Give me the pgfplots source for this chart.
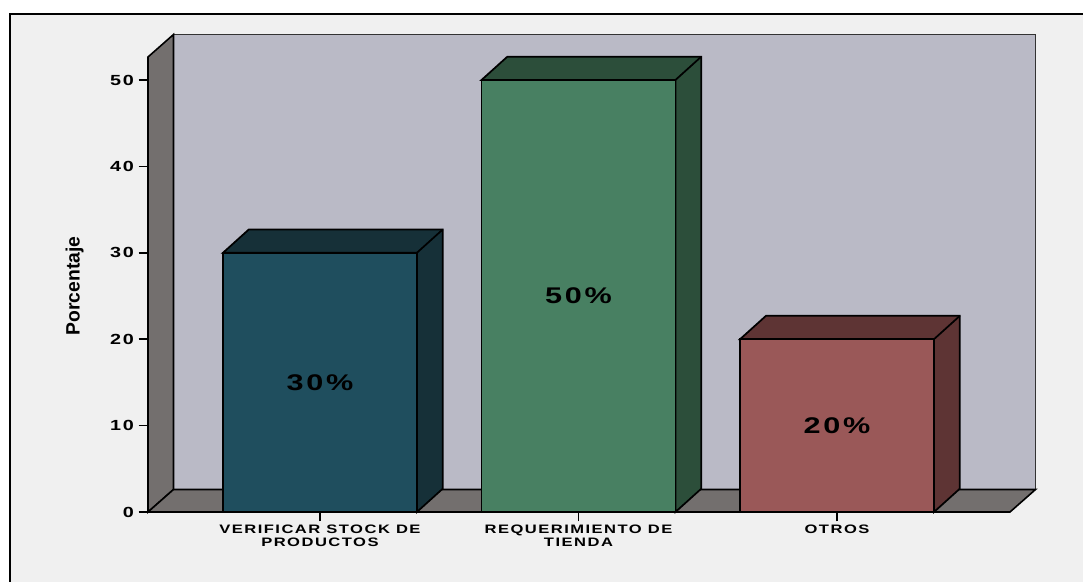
\documentclass[border=0pt]{standalone}
\usepackage{fontspec}
\setmainfont{Liberation Sans}
\newfontfamily\widefont[FakeStretch=1.35,LetterSpace=12]{Liberation Sans Bold}
\newfontfamily\ylabfont{Liberation Sans Bold}
\usepackage{pgfplots}
\usepackage{pgfplotstable}
\pgfplotsset{compat=1.18}
\definecolor{bgcol}{RGB}{240,240,240}
\definecolor{wallback}{RGB}{186,186,198}
\definecolor{wallside}{RGB}{115,111,110}
\definecolor{bfa}{RGB}{31,78,94}
\definecolor{bsa}{RGB}{22,48,56}
\definecolor{bfb}{RGB}{72,128,98}
\definecolor{bsb}{RGB}{44,78,58}
\definecolor{bfc}{RGB}{154,88,88}
\definecolor{bsc}{RGB}{94,52,52}
\pgfplotstableread{
x v
0 30
1 50
2 20
}\datatab
\begin{document}
\begin{tikzpicture}
\useasboundingbox (0,0) rectangle (812.25pt,436.5pt);
\clip (0,0) rectangle (812.25pt,436.5pt);
\fill[white] (0,0) rectangle (812.25pt,436.5pt);
\fill[bgcol] (7.5pt,426pt) rectangle (830pt,-20pt);
\draw[black, line width=2.2pt] (7.5pt,426pt) rectangle (830pt,-20pt);
\begin{axis}[
  at={(111pt,52.5pt)}, anchor=south west,
  scale only axis, width=646.5pt, height=341.25pt,
  xmin=-0.665, xmax=2.669, ymin=0, ymax=52.66,
  clip=false, axis on top,
  axis x line*=bottom, axis y line*=left,
  axis line style={black, line width=1.2pt, -},
  tick style={black, line width=1.2pt},
  tick align=outside, major tick length=7pt,
  xtick={0,1,2},
  xticklabels={{VERIFICAR STOCK DE\\PRODUCTOS},{REQUERIMIENTO DE\\TIENDA},{OTROS}},
  xticklabel style={align=center, font=\widefont\fontsize{9.2}{10}\selectfont, yshift=1pt},
  ytick={0,10,20,30,40,50},
  yticklabel style={font=\widefont\fontsize{11}{12}\selectfont},
  /pgf/number format/assume math mode=true,
  ylabel={Porcentaje},
  ylabel style={at={(axis description cs:-0.085,0.497)}, anchor=center, rotate=0, font=\ylabfont\fontsize{14.5}{17}\selectfont},
]
% walls
\addplot[fill=wallback, draw=black!80, line width=1.2pt] coordinates {(-0.5665,2.6) (-0.5665,55.26) (2.7675,55.26) (2.7675,2.6)} -- cycle;
\addplot[fill=wallside, draw=black, line width=1.2pt] coordinates {(-0.665,0) (-0.665,52.66) (-0.5665,55.26) (-0.5665,2.6)} -- cycle;
\addplot[fill=wallside, draw=black, line width=1.2pt] coordinates {(-0.665,0) (-0.5665,2.6) (2.7675,2.6) (2.669,0)} -- cycle;
% bar depth faces
\addplot[fill=bsa, draw=black, line width=1.3pt] coordinates {(-0.375,30) (-0.275,32.7) (0.475,32.7) (0.475,2.7) (0.375,0) (0.375,30)} -- cycle;
\addplot[draw=black, line width=1.3pt] coordinates {(0.375,30) (0.475,32.7)};
\addplot[fill=bsb, draw=black, line width=1.3pt] coordinates {(0.625,50) (0.725,52.7) (1.475,52.7) (1.475,2.7) (1.375,0) (1.375,50)} -- cycle;
\addplot[draw=black, line width=1.3pt] coordinates {(1.375,50) (1.475,52.7)};
\addplot[fill=bsc, draw=black, line width=1.3pt] coordinates {(1.625,20) (1.725,22.7) (2.475,22.7) (2.475,2.7) (2.375,0) (2.375,20)} -- cycle;
\addplot[draw=black, line width=1.3pt] coordinates {(2.375,20) (2.475,22.7)};
% front faces
\addplot[ybar, bar width=0.75, bar shift=0, fill=bfa, draw=black, line width=1.3pt] table[x=x, y=v, restrict expr to domain={\thisrow{x}}{0:0}] {\datatab};
\addplot[ybar, bar width=0.75, bar shift=0, fill=bfb, draw=black, line width=1.3pt] table[x=x, y=v, restrict expr to domain={\thisrow{x}}{1:1}] {\datatab};
\addplot[ybar, bar width=0.75, bar shift=0, fill=bfc, draw=black, line width=1.3pt] table[x=x, y=v, restrict expr to domain={\thisrow{x}}{2:2}] {\datatab};
% labels
\addplot[draw=none, mark=none, point meta={\thisrow{v}},
  nodes near coords={\pgfmathprintnumber{\pgfplotspointmeta}\%},
  every node near coord/.append style={anchor=center, font=\widefont\fontsize{17}{20}\selectfont, text=black}]
  table[x=x, y expr=\thisrow{v}/2] {\datatab};
\end{axis}
\end{tikzpicture}
\end{document}
